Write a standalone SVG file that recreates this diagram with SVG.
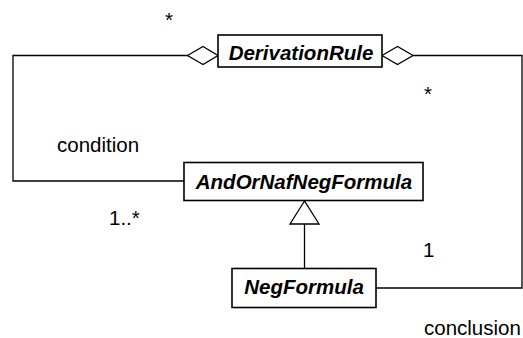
<svg xmlns="http://www.w3.org/2000/svg" width="523" height="338" viewBox="0 0 523 338">
  <style>
    .box { fill: #ffffff; stroke: #000000; stroke-width: 1.6; }
    .cls { font-family: "Liberation Sans", Arial, sans-serif; font-size: 20.5px; font-weight: bold; font-style: italic; text-anchor: middle; fill: #000000; }
    .lbl { font-family: "Liberation Sans", Arial, sans-serif; font-size: 20.5px; fill: #000000; }
    .edge { fill: none; stroke: #000000; stroke-width: 1.3; }
    .diamond { fill: #ffffff; stroke: #000000; stroke-width: 1.3; }
    .tri { fill: #ffffff; stroke: #000000; stroke-width: 1.3; }
  </style>
  <rect width="523" height="338" fill="#ffffff"/>

  <!-- connectors -->
  <g id="connectors">
    <!-- condition aggregation -->
    <polyline class="edge" points="188,55.5 13,55.5 13,181 184,181"/>
    <polygon class="diamond" points="187.5,55.5 203,46.5 218,55.5 203,64.5"/>
    <!-- conclusion aggregation -->
    <polyline class="edge" points="413,55.5 522,55.5 522,288 376,288"/>
    <polygon class="diamond" points="382,55.5 397.5,46.5 413,55.5 397.5,64.5"/>
    <!-- generalization -->
    <line class="edge" x1="304.5" y1="268" x2="304.5" y2="224"/>
    <polygon class="tri" points="304.5,201 290,224 319,224"/>
  </g>

  <!-- multiplicities and role names -->
  <g id="labels">
    <text class="lbl" x="165" y="27">*</text>
    <text class="lbl" x="424" y="101">*</text>
    <text class="lbl" x="57" y="152">condition</text>
    <text class="lbl" x="109" y="225">1..*</text>
    <text class="lbl" x="423" y="257">1</text>
    <text class="lbl" x="424" y="335">conclusion</text>
  </g>

  <g id="DerivationRule">
    <rect class="box" x="218" y="35" width="164" height="32"/>
    <text class="cls" x="301" y="60">DerivationRule</text>
  </g>

  <g id="AndOrNafNegFormula">
    <rect class="box" x="184" y="162.5" width="239" height="38"/>
    <text class="cls" x="304" y="188.5">AndOrNafNegFormula</text>
  </g>

  <g id="NegFormula">
    <rect class="box" x="232" y="268.5" width="144" height="39"/>
    <text class="cls" x="304" y="293.5">NegFormula</text>
  </g>
</svg>
